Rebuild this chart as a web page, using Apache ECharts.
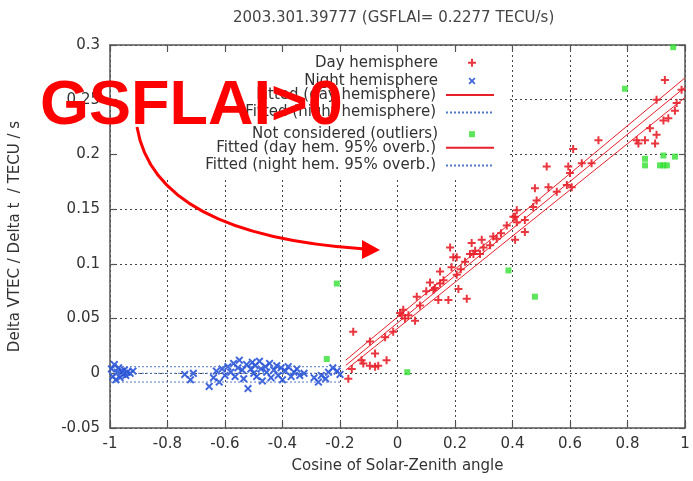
<!DOCTYPE html>
<html><head><meta charset="utf-8">
<script src="https://cdn.jsdelivr.net/npm/echarts@6/dist/echarts.min.js"></script>
<style>html,body{margin:0;padding:0;background:#fff}#c{width:693px;height:481px}</style>
</head><body><div id="c"></div>
<script>
var titleText = "2003.301.39777 (GSFLAI= 0.2277 TECU/s)";
var xName = "Cosine of Solar-Zenith angle";
var yName = "Delta VTEC / Delta t  / TECU / s";
var xTickLabels = ["-1","-0.8","-0.6","-0.4","-0.2","0","0.2","0.4","0.6","0.8","1"];
var yTickLabels = ["-0.05","0","0.05","0.1","0.15","0.2","0.25","0.3"];
var legendNames = ["Day hemisphere","Night hemisphere","Fitted (day hemisphere)","Fitted (night hemisphere)","Not considered (outliers)","Fitted (day hem. 95% overb.)","Fitted (night hem. 95% overb.)"];

var dayPoints = [
 [-0.171,-0.005],[-0.159,0.004],[-0.154,0.038],[-0.125,0.012],[-0.119,0.009],[-0.096,0.029],[-0.078,0.018],
 [-0.096,0.007],[-0.078,0.006],[-0.067,0.007],[-0.038,0.012],[-0.043,0.033],[-0.015,0.038],[0.015,0.053],
 [0.026,0.050],[0.038,0.053],[0.061,0.048],[0.078,0.062],[0.009,0.055],[0.02,0.058],[0.067,0.070],
 [0.1,0.075],[0.113,0.083],[0.125,0.076],[0.13,0.078],[0.142,0.067],[0.148,0.093],[0.148,0.082],[0.16,0.085],
 [0.177,0.067],[0.183,0.115],[0.188,0.097],[0.194,0.106],[0.206,0.106],[0.206,0.090],[0.212,0.077],
 [0.22,0.095],[0.235,0.102],[0.241,0.068],[0.252,0.109],[0.258,0.119],[0.264,0.109],[0.27,0.112],
 [0.287,0.109],[0.293,0.122],[0.299,0.115],[0.322,0.117],[0.333,0.125],[0.345,0.123],[0.36,0.128],
 [0.38,0.135],[0.403,0.143],[0.409,0.143],[0.415,0.138],[0.415,0.149],[0.409,0.122],[0.443,0.140],
 [0.443,0.129],[0.472,0.152],[0.484,0.158],[0.478,0.169],[0.519,0.189],[0.525,0.170],[0.554,0.166],
 [0.589,0.172],[0.594,0.189],[0.6,0.183],[0.606,0.170],[0.611,0.205],[0.641,0.192],[0.675,0.192],
 [0.699,0.213],[0.832,0.213],[0.838,0.210],[0.861,0.213],[0.878,0.224],[0.896,0.210],[0.901,0.218],
 [0.901,0.250],[0.925,0.231],[0.942,0.233],[0.930,0.268],[0.965,0.240],[0.971,0.247],[0.988,0.259]
];
var nightPoints = [
 [-0.995,0.004],[-0.99,-0.003],[-0.985,0.008],[-0.98,-0.006],[-0.975,0.001],[-0.97,0.005],[-0.965,-0.004],
 [-0.96,0.002],[-0.955,-0.001],[-0.95,0.003],[-0.945,-0.002],[-0.94,0.001],[-0.93,0.000],[-0.92,0.002],
 [-0.74,-0.001],[-0.72,-0.006],[-0.71,0.000],
 [-0.655,-0.012],[-0.64,-0.004],[-0.63,0.002],[-0.62,-0.008],[-0.61,0.004],[-0.6,-0.002],[-0.59,0.006],
 [-0.58,0.001],[-0.57,0.009],[-0.565,-0.003],[-0.555,0.005],[-0.55,0.012],[-0.54,0.003],[-0.535,-0.005],
 [-0.525,0.008],[-0.52,-0.014],[-0.51,0.004],[-0.505,0.010],[-0.5,0.000],[-0.495,0.007],[-0.49,-0.003],
 [-0.48,0.011],[-0.475,0.004],[-0.47,-0.007],[-0.46,0.006],[-0.455,0.001],[-0.445,0.009],[-0.44,-0.004],
 [-0.43,0.003],[-0.42,0.007],[-0.415,-0.002],[-0.405,0.005],[-0.4,-0.006],[-0.39,0.002],[-0.38,0.006],
 [-0.37,-0.003],[-0.36,0.001],[-0.35,0.004],[-0.34,-0.002],[-0.325,0.000],
 [-0.29,-0.004],[-0.275,-0.008],[-0.265,-0.002],[-0.25,-0.005],[-0.24,0.001],[-0.225,0.005],[-0.21,0.002],[-0.2,-0.001]
];
var outlierPoints = [
 [-0.211,0.082],[-0.246,0.013],[0.034,0.001],[0.386,0.094],[0.478,0.070],[0.791,0.260],[0.959,0.298],
 [0.861,0.196],[0.861,0.190],[0.913,0.190],[0.925,0.190],[0.937,0.190],[0.925,0.199],[0.965,0.198]
];
var dayFit = [[-0.18,0.0072],[1.0,0.2615]];
var dayFitUpper = [[-0.18,0.012],[1.0,0.270]];
var dayFitLower = [[-0.18,0.003],[1.0,0.252]];
var nightFit = [[-1.0,0.0],[-0.2,0.0]];
var nightFitUpper = [[-1.0,0.006],[-0.2,0.006]];
var nightFitLower = [[-1.0,-0.008],[-0.2,-0.008]];

var FONT = "DejaVu Sans";
var plusPath = 'path://M3,0H5V3H8V5H5V8H3V5H0V3H3Z';
var crossPath = 'path://M0,1.4L1.4,0L4,2.6L6.6,0L8,1.4L5.4,4L8,6.6L6.6,8L4,5.4L1.4,8L0,6.6L2.6,4Z';
var squarePath = 'path://M0,0H8V8H0Z';
var RED = '#e8202a', BLUE = '#2a55d8', GREEN = '#33e033', NBLUE = '#5577cc';

var chart = echarts.init(document.getElementById('c'), null, {renderer:'canvas'});

var rowY = [59.3,76.9,94.5,112.1,129.7,147.3,164.9];
var isMarker = [true,true,false,false,true,false,false];
var markerSize = [8,7,14,14,6,14,14];
var markerIcon = [plusPath, crossPath, null, null, squarePath, null, null];
var legends = legendNames.map(function(n,i){
  var item = {name:n};
  if (markerIcon[i]) item.icon = markerIcon[i];
  var l = {
    data:[item], orient:'vertical', align:'right',
    right: isMarker[i] ? 693 - (472 + markerSize[i]/2) : 198,
    top: rowY[i]-markerSize[i]/2,
    itemWidth:48, itemHeight:markerSize[i], padding:0, selectedMode:false,
    symbolKeepAspect:true,
    textStyle:{fontFamily:FONT, fontSize:15, color:'#333', padding:[0,5,0,0]}
  };
  if (!isMarker[i]) { l.itemStyle = {opacity:0, color:'transparent', borderWidth:0}; }
  return l;
});

var axisCommon = {
  type:'value', axisLine:{show:true, onZero:false, lineStyle:{color:'#555', width:1.5}},
  axisTick:{show:true, inside:true, length:6, lineStyle:{color:'#555', width:1.2}}
};

var option = {
  animation:false,
  backgroundColor:'#fff',
  title:{text:titleText, left:228, top:6, textStyle:{fontFamily:FONT, fontSize:15, fontWeight:'normal', color:'#444'}},
  legend: legends,
  grid:{left:110, right:8, top:45, bottom:53, containLabel:false},
  xAxis:[
    Object.assign({}, axisCommon, {min:-1, max:1, interval:0.2, position:'bottom',
      name:xName, nameLocation:'middle', nameGap:31,
      nameTextStyle:{fontFamily:FONT, fontSize:15, color:'#333'},
      axisLabel:{margin:9, fontFamily:FONT, fontSize:15, color:'#333', formatter:function(v,i){return xTickLabels[i];}},
      splitLine:{show:true, lineStyle:{color:'#444', width:1, type:[2,3]}}}),
    Object.assign({}, axisCommon, {min:-1, max:1, interval:0.2, position:'top', axisLabel:{show:false}, splitLine:{show:false}})
  ],
  yAxis:[
    Object.assign({}, axisCommon, {min:-0.05, max:0.3, interval:0.05, position:'left',
      name:yName, nameLocation:'middle', nameGap:87, nameRotate:90,
      nameTextStyle:{fontFamily:FONT, fontSize:15, color:'#333'},
      axisLabel:{margin:10, fontFamily:FONT, fontSize:15, color:'#333', formatter:function(v,i){return yTickLabels[i];}},
      splitLine:{show:true, lineStyle:{color:'#444', width:1, type:[2,3]}}}),
    Object.assign({}, axisCommon, {min:-0.05, max:0.3, interval:0.05, position:'right', axisLabel:{show:false}, splitLine:{show:false}})
  ],
  graphic:[
    {type:'rect', z:1, silent:true, shape:{x:118, y:53, width:389, height:124}, style:{fill:'#fff'}},
    {type:'bezierCurve', z:100, silent:true, shape:{x1:137,y1:127,cpx1:155,cpy1:235,x2:365,y2:249}, style:{stroke:'#ff0000', lineWidth:3, fill:null}},
    {type:'polygon', z:100, silent:true, shape:{points:[[380,250],[362,240],[362,259]]}, style:{fill:'#ff0000'}},
    {type:'text', z:101, silent:true, x:40, y:107, style:{text:'GSFLAI>0', fontFamily:'Liberation Sans', fontWeight:'bold', fontSize:63, fill:'#ff0000', verticalAlign:'middle'}}
  ],
  series:[
    {name:legendNames[0], type:'scatter', data:dayPoints, symbol:plusPath, symbolSize:8, itemStyle:{color:RED, opacity:0.9}, z:3},
    {name:legendNames[1], type:'scatter', data:nightPoints, symbol:crossPath, symbolSize:8, itemStyle:{color:BLUE, opacity:0.9}, z:3},
    {name:legendNames[2], type:'line', data:dayFit, symbol:'none', showSymbol:false, lineStyle:{color:RED, width:1}, itemStyle:{color:RED}, z:4},
    {name:legendNames[3], type:'line', data:nightFit, symbol:'none', showSymbol:false, lineStyle:{color:NBLUE, width:1, type:[2,2]}, itemStyle:{color:NBLUE}, z:4},
    {name:legendNames[4], type:'scatter', data:outlierPoints, symbol:squarePath, symbolSize:6, itemStyle:{color:GREEN}, z:3},
    {name:legendNames[5], type:'line', data:dayFitUpper, symbol:'none', showSymbol:false, lineStyle:{color:RED, width:1}, itemStyle:{color:RED}, z:4},
    {name:legendNames[5], type:'line', data:dayFitLower, symbol:'none', showSymbol:false, lineStyle:{color:RED, width:1}, itemStyle:{color:RED}, z:4},
    {name:legendNames[6], type:'line', data:nightFitUpper, symbol:'none', showSymbol:false, lineStyle:{color:NBLUE, width:1, type:[2,2]}, itemStyle:{color:NBLUE}, z:4},
    {name:legendNames[6], type:'line', data:nightFitLower, symbol:'none', showSymbol:false, lineStyle:{color:NBLUE, width:1, type:[2,2]}, itemStyle:{color:NBLUE}, z:4}
  ]
};
chart.setOption(option);
</script>
</body></html>
